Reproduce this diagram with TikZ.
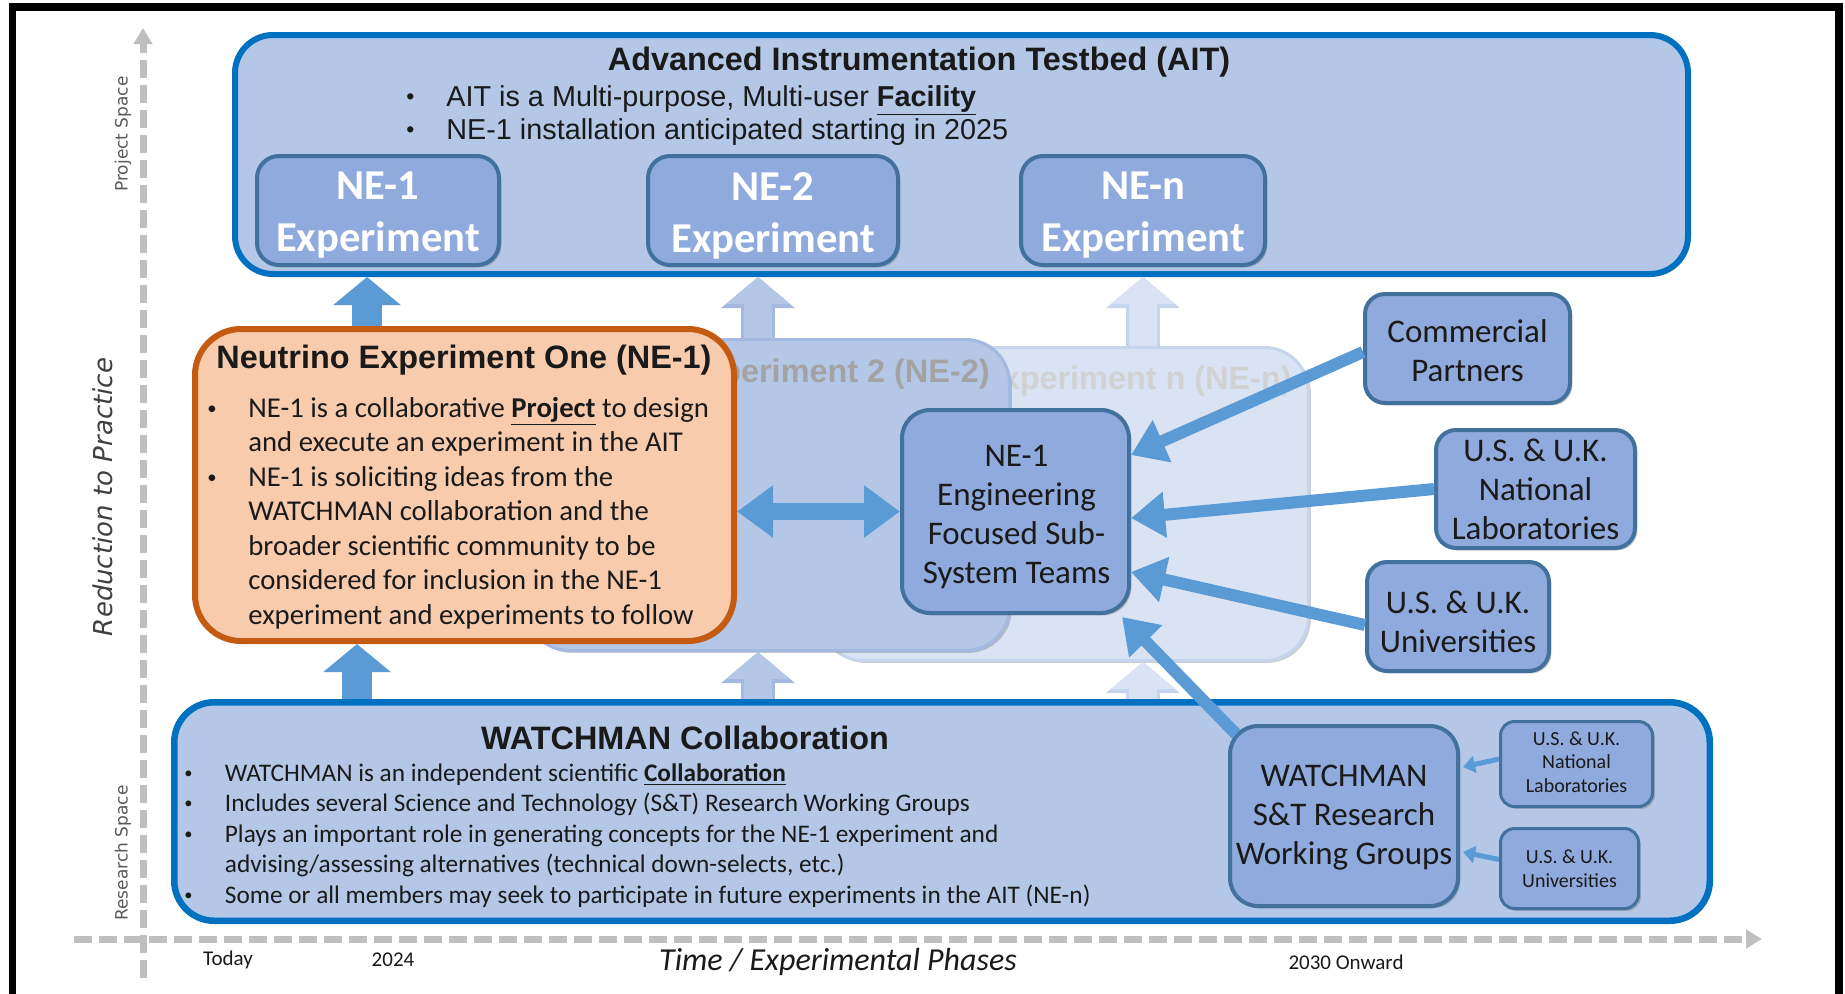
\documentclass[tikz,border=0pt]{standalone}
\usepackage{fontspec}
\setmainfont{Liberation Sans}
\newfontfamily\carl{Carlito}
\newfontfamily\djv{DejaVu Sans}
\usetikzlibrary{arrows.meta,calc,shadows}
\definecolor{aitblue}{HTML}{0070C0}
\definecolor{lightfill}{HTML}{B4C7E7}
\definecolor{midfill}{HTML}{8FAADC}
\definecolor{boxedge}{HTML}{41719C}
\definecolor{arrowblue}{HTML}{5B9BD5}
\definecolor{orangefill}{HTML}{F8CBAD}
\definecolor{orangeedge}{HTML}{C55A11}
\definecolor{ghostfill}{HTML}{DAE3F3}
\definecolor{ghostedgeA}{HTML}{A4B9E0}
\definecolor{ghostedgeB}{HTML}{C6D4EE}
\definecolor{axisgray}{HTML}{BFBFBF}
\definecolor{labelgray}{HTML}{595959}
\definecolor{inkcol}{HTML}{1A1A1A}
\newcommand\bulA{\makebox[20pt][l]{\raisebox{1pt}{\scalebox{0.8}{•}}}}
\newcommand\bulO{\makebox[20.5pt][l]{\raisebox{1.4pt}{\scalebox{0.65}{•}}}}
\newcommand\bulW{\makebox[20.25pt][l]{\raisebox{1.3pt}{\scalebox{0.65}{•}}}}
\tikzset{
  softshadow/.style={drop shadow={shadow xshift=1.2pt, shadow yshift=-1.2pt, opacity=0.28, fill=black!70}},
  bigbox/.style={draw=aitblue, line width=3pt, fill=lightfill, rounded corners=19pt, inner sep=0pt, softshadow},
  expbox/.style={draw=boxedge, line width=2pt, fill=midfill, rounded corners=11pt, inner sep=0pt, softshadow},
  exptext/.style={align=center, inner sep=0pt, text=white, font=\carl\bfseries\fontsize{21.3}{26}\selectfont},
  bluebox/.style={draw=boxedge, line width=2pt, fill=midfill, rounded corners=10pt, inner sep=0pt, softshadow},
  boxtext/.style={align=center, inner sep=0pt, text=inkcol, font=\carl\fontsize{16.5}{19.5}\selectfont},
  smallbox/.style={bluebox, line width=1.5pt, rounded corners=7pt},
  smalltext/.style={boxtext, font=\carl\fontsize{10}{11.8}\selectfont},
  ghostbox/.style={line width=1.5pt, rounded corners=22pt, inner sep=0pt, softshadow},
  txt/.style={anchor=base west, inner sep=0pt, text=inkcol},
  titletxt/.style={anchor=base, inner sep=0pt, text=inkcol, font=\bfseries\fontsize{16.2}{19}\selectfont},
  aitfont/.style={font=\fontsize{14.4}{17}\selectfont},
  orfont/.style={font=\carl\fontsize{14.35}{17}\selectfont},
  wafont/.style={font=\carl\fontsize{12.65}{15}\selectfont},
  solidup/.style={draw=arrowblue, line width=15pt, -{Triangle[length=14pt,width=33pt]}},
  ghostupA/.style={preaction={draw=ghostedgeA, line width=17pt, -{Triangle[length=15.5pt,width=36pt]}}, draw=lightfill, line width=14pt, -{Triangle[length=13.5pt,width=31pt]}},
  ghostupB/.style={preaction={draw=ghostedgeB, line width=17pt, -{Triangle[length=15.5pt,width=36pt]}}, draw=ghostfill, line width=14pt, -{Triangle[length=13.5pt,width=31pt]}},
  dblarrow/.style={draw=arrowblue, line width=8.5pt, {Triangle[length=18pt,width=25pt]}-{Triangle[length=18pt,width=25pt]}},
  inarrow/.style={draw=arrowblue, line width=6pt, -{Triangle[length=17pt,width=22pt]}},
  smallarrow/.style={draw=arrowblue, line width=2.5pt, -{Triangle[length=6pt,width=8.5pt]}},
  axisline/.style={draw=axisgray, line width=3.5pt, dash pattern=on 9pt off 3.5pt, -{Triangle[length=8pt,width=9pt]}},
  axislabel/.style={inner sep=0pt, text=inkcol, font=\carl\fontsize{10.5}{12}\selectfont}
}
\begin{document}
\begin{tikzpicture}[x=0.5pt,y=-0.5pt]
\useasboundingbox (0,0) rectangle (1845,993);
\fill[white] (0,0) rectangle (1845,993);
\clip (0,0) rectangle (1845,993);
% frame
\draw[line width=3.75pt] (12.5,1010) -- (12.5,7) -- (1839,7) -- (1839,1010);
% axes
\coordinate (yaxbot) at (143,978);
\coordinate (yaxtop) at (143,28);
\coordinate (xaxleft) at (74,939);
\coordinate (xaxright) at (1762,939);
\draw[axisline] (yaxbot) -- (yaxtop);
\draw[axisline] (xaxleft) -- (xaxright);
\node[rotate=90, inner sep=0pt, text=labelgray, font=\djv\fontsize{8.5}{10}\selectfont] (projspace) at (123,134) {Project Space};
\node[rotate=90, inner sep=0pt, text=labelgray, font=\djv\fontsize{8.5}{10}\selectfont] (resspace) at (123,853) {Research Space};
\node[rotate=90, inner sep=0pt, text=black!75, font=\djv\itshape\fontsize{13}{15}\selectfont] (rtp) at (103,497) {Reduction to Practice};
\node[axislabel] (today) at (228,960) {Today};
\node[axislabel] (y2024) at (393,960) {2024};
\node[axislabel, font=\carl\itshape\fontsize{16}{19}\selectfont] (timelabel) at (838,962) {Time / Experimental Phases};
\node[axislabel] (y2030) at (1346,962) {2030 Onward};

% AIT box
\node[bigbox, minimum width=726.5pt, minimum height=119.5pt] (ait) at (961.5,154.5) {};
\node[titletxt] (aittitle) at (919,70) {Advanced Instrumentation Testbed (AIT)};
\node[txt, aitfont] (ait1) at (406,106) {\bulA AIT is a Multi-purpose, Multi-user \underline{\textbf{Facility}}};
\node[txt, aitfont] (ait2) at (406,139.5) {\bulA NE-1 installation anticipated starting in 2025};
\node[expbox, minimum width=121pt, minimum height=54.5pt] (ne1exp) at (378,210.5) {};
\node[exptext] (ne1lab) at ($(ne1exp.center)+(0,5)$) {NE-1\\Experiment};
\node[expbox, minimum width=125pt, minimum height=54.5pt] (ne2exp) at (773,210.5) {};
\node[exptext] (ne2lab) at ($(ne2exp.center)+(0,5)$) {NE-2\\Experiment};
\node[expbox, minimum width=122pt, minimum height=54.5pt] (nenexp) at (1143,210.5) {};
\node[exptext] (nenlab) at ($(nenexp.center)+(0,5)$) {NE-n\\Experiment};

% WATCHMAN box
\node[bigbox, line width=3.25pt, rounded corners=20pt, minimum width=767.75pt, minimum height=109.25pt] (watch) at (942,811.5) {};

% ghost boxes
\node[ghostbox, fill=ghostfill, draw=ghostedgeB, minimum width=244.5pt, minimum height=156.5pt] (ghostn) at (1064,504) {};
\node[anchor=base east, inner sep=0pt, font=\bfseries\fontsize{16.2}{19}\selectfont, text=gray!35] (ghostntitle) at (1292,389) {Neutrino Experiment n (NE-n)};
\node[ghostbox, fill=lightfill, draw=ghostedgeA, minimum width=242pt, minimum height=155.5pt] (ghost2) at (767.5,495) {};
\node[anchor=base east, inner sep=0pt, font=\bfseries\fontsize{16.2}{19}\selectfont, text=gray!72] (ghost2title) at (990,382) {Neutrino Experiment 2 (NE-2)};

% orange box
\node[draw=orangeedge, line width=3pt, fill=orangefill, rounded corners=23pt, inner sep=0pt, softshadow, minimum width=269.5pt, minimum height=156pt] (orange) at (464.5,485) {};
\node[titletxt] (ortitle) at (464,368.5) {Neutrino Experiment One (NE-1)};
\node[txt, orfont] (or1) at (207,417) {\bulO NE-1 is a collaborative \underline{\textbf{Project}} to design};
\node[txt, orfont] (or2) at (248,451.5) {and execute an experiment in the AIT};
\node[txt, orfont] (or3) at (207,486) {\bulO NE-1 is soliciting ideas from the};
\node[txt, orfont] (or4) at (248,520.5) {WATCHMAN collaboration and the};
\node[txt, orfont] (or5) at (248,555) {broader scientific community to be};
\node[txt, orfont] (or6) at (248,589.5) {considered for inclusion in the NE-1};
\node[txt, orfont] (or7) at (248,624) {experiment and experiments to follow};

% engineering and partner boxes
\node[bluebox, rounded corners=14pt, minimum width=113.5pt, minimum height=101.5pt] (eng) at (1015.5,511.5) {};
\node[boxtext] (englab) at ($(eng.center)+(1,6)$) {NE-1\\Engineering\\Focused Sub-\\System Teams};
\node[bluebox, minimum width=102.5pt, minimum height=54.5pt] (comm) at (1467.5,348.5) {};
\node[boxtext] (commlab) at ($(comm.center)+(0,2)$) {Commercial\\Partners};
\node[bluebox, minimum width=99.5pt, minimum height=59pt] (natl) at (1535.5,489) {};
\node[boxtext] (natllab) at (natl.center) {U.S. \& U.K.\\National\\Laboratories};
\node[bluebox, minimum width=91pt, minimum height=54.5pt] (univ) at (1458,616.5) {};
\node[boxtext] (univlab) at ($(univ.center)+(0,5)$) {U.S. \& U.K.\\Universities};

% WATCHMAN contents
\node[titletxt] (watitle) at (685,749.5) {WATCHMAN Collaboration};
\node[txt, wafont] (wa1) at (184,781) {\bulW WATCHMAN is an independent scientific \underline{\textbf{Collaboration}}};
\node[txt, wafont] (wa2) at (184,811) {\bulW Includes several Science and Technology (S\&T) Research Working Groups};
\node[txt, wafont] (wa3) at (184,842) {\bulW Plays an important role in generating concepts for the NE-1 experiment and};
\node[txt, wafont] (wa4) at (224.5,872) {advising/assessing alternatives (technical down-selects, etc.)};
\node[txt, wafont] (wa5) at (184,903) {\bulW Some or all members may seek to participate in future experiments in the AIT (NE-n)};
\node[bluebox, rounded corners=14pt, minimum width=114pt, minimum height=90pt] (st) at (1344,816) {};
\node[boxtext] (stlab) at ($(st.center)+(0,2)$) {WATCHMAN\\S\&T Research\\Working Groups};
\node[smallbox, minimum width=76pt, minimum height=42.5pt] (snatl) at (1576.5,764) {};
\node[smalltext] (snatllab) at ($(snatl.center)+(0,-2)$) {U.S. \& U.K.\\National\\Laboratories};
\node[smallbox, minimum width=69pt, minimum height=40pt] (suniv) at (1569.5,868.5) {};
\node[smalltext] (sunivlab) at (suniv.center) {U.S. \& U.K.\\Universities};

% block arrows
\coordinate (xa) at (367,0);
\coordinate (xb) at (357,0);
\coordinate (xg2) at (758,0);
\coordinate (xgn) at (1143,0);
\draw[ghostupA] (ghost2.north -| xg2) -- (ait.south -| xg2);
\draw[ghostupA] (watch.north -| xg2) -- (ghost2.south -| xg2);
\draw[ghostupB] (ghostn.north -| xgn) -- (ait.south -| xgn);
\draw[ghostupB] (watch.north -| xgn) -- (ghostn.south -| xgn);
\draw[solidup] (orange.north -| xa) -- (ait.south -| xa);
\draw[solidup] (watch.north -| xb) -- (orange.south -| xb);

% connectors
\draw[dblarrow] (eng.west -| orange.east) -- (eng.west);
\draw[inarrow] ($(comm.west)+(0,3.5)$) -- ($(eng.east)+(0,-56.5)$);
\draw[inarrow] (natl.west) -- ($(eng.east)+(0,6.5)$);
\draw[inarrow] ($(univ.west)+(0,8.5)$) -- ($(eng.east)+(0,60.5)$);
\draw[inarrow] ($(st.north west)+(8,10)$) -- ($(eng.south east)+(-9,2)$);
\draw[smallarrow] ($(snatl.west)+(0,-5)$) -- ($(st.east)+(3,-49)$);
\draw[smallarrow] ($(suniv.west)+(0,-9)$) -- ($(st.east)+(3,36)$);
\end{tikzpicture}
\end{document}
